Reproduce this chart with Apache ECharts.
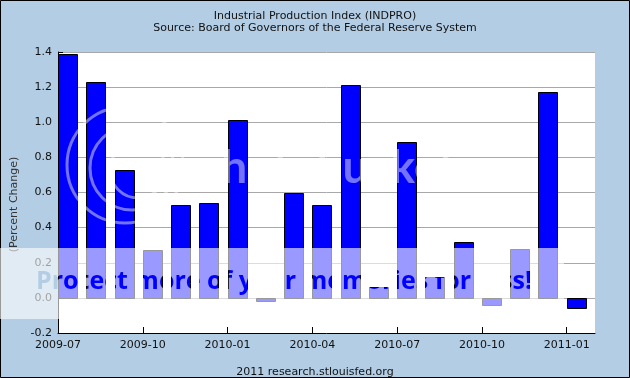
<!DOCTYPE html>
<html><head><meta charset="utf-8">
<script src="https://cdn.jsdelivr.net/npm/echarts@6/dist/echarts.min.js"></script>
<style>html,body{margin:0;padding:0;background:#b3cde4}#c{width:630px;height:378px}</style>
</head><body><div id="c"></div>
<script>
// Monthly observations (percent change)
const months = ['2009-07','2009-08','2009-09','2009-10','2009-11','2009-12',
  '2010-01','2010-02','2010-03','2010-04','2010-05','2010-06',
  '2010-07','2010-08','2010-09','2010-10','2010-11','2010-12','2011-01'];
const values = [1.39, 1.23, 0.73, 0.27, 0.53, 0.54,
  1.01, -0.02, 0.60, 0.53, 1.21, 0.06,
  0.89, 0.12, 0.32, -0.04, 0.28, 1.17, -0.06];
const tickLabels = ['2009-07','2009-10','2010-01','2010-04','2010-07','2010-10','2011-01'];
const yTicks = [-0.2, 0.0, 0.2, 0.4, 0.6, 0.8, 1.0, 1.2, 1.4];

const tickIdx = tickLabels.map(l => months.indexOf(l));
const FONT = 'DejaVu Sans';
const TXT = '#111';
const barFrac = 0.66;

const chart = echarts.init(document.getElementById('c'), null, {renderer: 'canvas'});
const option = {
  animation: false,
  backgroundColor: '#b3cde4',
  title: [{
    text: 'Industrial Production Index (INDPRO)',
    subtext: 'Source: Board of Governors of the Federal Reserve System',
    left: 'center', top: 6, itemGap: 1,
    textStyle: {fontFamily: FONT, fontSize: 11, fontWeight: 'normal', color: TXT},
    subtextStyle: {fontFamily: FONT, fontSize: 11, color: TXT}
  }, {
    text: '2011 research.stlouisfed.org',
    left: 'center', top: 362,
    textStyle: {fontFamily: FONT, fontSize: 11, fontWeight: 'normal', color: TXT}
  }],
  grid: {left: 58, top: 52, width: 537, height: 281, show: true, backgroundColor: '#ffffff', borderWidth: 0},
  xAxis: {
    type: 'value', min: 0, max: months.length,
    axisLine: {onZero: false, lineStyle: {color: '#000', width: 1}},
    axisTick: {inside: true, length: 6, customValues: tickIdx, lineStyle: {color: '#000'}},
    axisLabel: {customValues: tickIdx, formatter: v => months[Math.round(v)] || '',
      color: TXT, fontFamily: FONT, fontSize: 11, margin: 7},
    splitLine: {show: false}
  },
  yAxis: {
    type: 'value', min: yTicks[0], max: yTicks[yTicks.length - 1], interval: 0.2,
    name: '(Percent Change)', nameLocation: 'middle', nameGap: 38,
    nameTextStyle: {fontFamily: FONT, fontSize: 11, color: '#333', padding: [0, 24, 0, 0]},
    axisLine: {show: true, lineStyle: {color: '#000', width: 1}},
    axisTick: {show: true, inside: true, length: 5, lineStyle: {color: '#000'}},
    axisLabel: {formatter: v => v.toFixed(1), color: TXT, fontFamily: FONT, fontSize: 11, margin: 6},
    splitLine: {show: true, lineStyle: {color: '#a8a8a8', width: 1}}
  },
  series: [{
    type: 'custom',
    data: values.map((v, i) => [i, v]),
    renderItem: function (params, api) {
      const i = api.value(0), v = api.value(1);
      const base = api.coord([i, 0]);
      const top = api.coord([i, v]);
      const w = api.size([barFrac, 0])[0];
      const x = Math.round(base[0]) + 0.5;
      const y0 = Math.round(Math.min(base[1], top[1])) + 0.5;
      const y1 = Math.round(Math.max(base[1], top[1])) + 0.5;
      return {type: 'rect', shape: {x: x, y: y0, width: Math.round(w), height: Math.max(y1 - y0, 1)},
        style: {fill: '#0000ff', stroke: '#000', lineWidth: 1}};
    }
  }],
  graphic: [
    {type: 'rect', silent: true, z: 100, shape: {x: 0.5, y: 0.5, width: 629, height: 377},
      style: {fill: 'none', stroke: '#000', lineWidth: 1}},
    {type: 'circle', silent: true, z: 100, shape: {cx: 125, cy: 165, r: 58},
      style: {fill: 'none', stroke: 'rgba(255,255,255,0.45)', lineWidth: 3}},
    {type: 'circle', silent: true, z: 100, shape: {cx: 132, cy: 168, r: 42},
      style: {fill: 'none', stroke: 'rgba(255,255,255,0.45)', lineWidth: 3}},
    {type: 'circle', silent: true, z: 100, shape: {cx: 138, cy: 170, r: 28},
      style: {fill: 'none', stroke: 'rgba(255,255,255,0.45)', lineWidth: 3}},
    {type: 'text', silent: true, z: 100, x: 195, y: 168,
      style: {text: 'photobucket', font: 'bold 46px Lato', fill: 'rgba(255,255,255,0.45)', verticalAlign: 'middle'}},
    {type: 'text', silent: true, zlevel: 5, z: 1, x: 36, y: 282,
      style: {text: 'Protect more of your memories for less!', font: 'bold 25px "Open Sans"', fill: '#000',
        verticalAlign: 'middle'}},
    {type: 'rect', silent: true, zlevel: 5, z: 2, shape: {x: 0, y: 248, width: 564, height: 71},
      style: {fill: 'rgba(255,255,255,0.6)', blend: 'source-out'}}
  ]
};
chart.setOption(option);
</script>
</body></html>
